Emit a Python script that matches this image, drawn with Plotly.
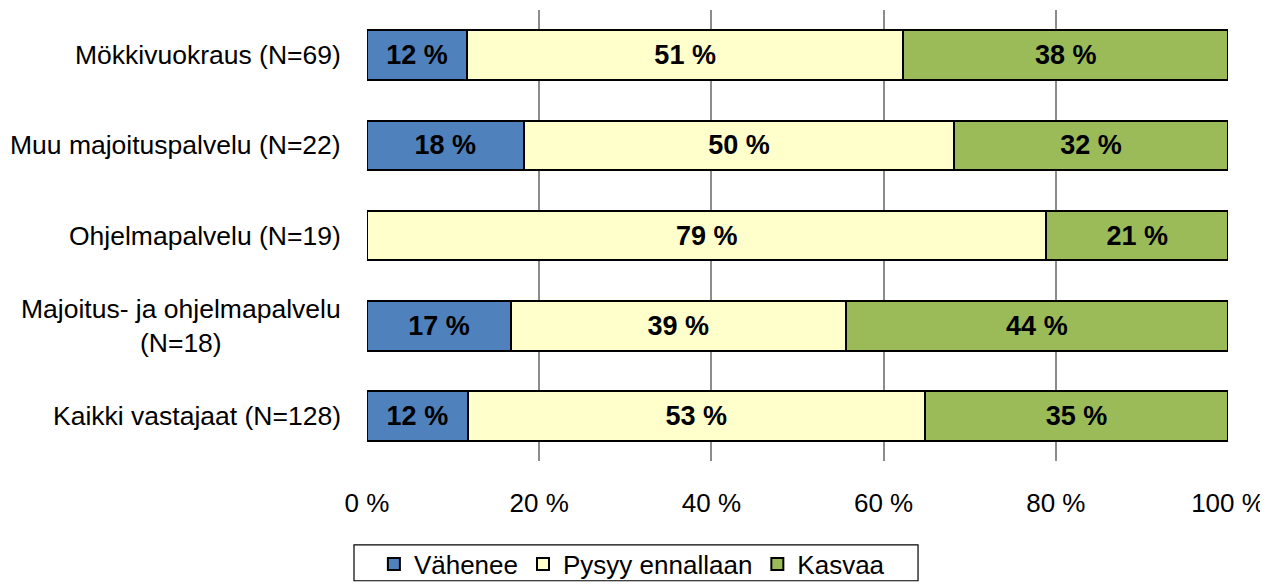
import plotly.graph_objects as go

categories = ["Mökkivuokraus (N=69)", "Muu majoituspalvelu (N=22)", "Ohjelmapalvelu (N=19)",
              "Majoitus- ja ohjelmapalvelu<br>(N=18)", "Kaikki vastajaat (N=128)"]
series_names = ["Vähenee", "Pysyy ennallaan", "Kasvaa"]
vahenee = [11.6, 18.2, 0.0, 16.7, 11.7]
pysyy = [50.7, 50.0, 78.9, 38.9, 53.1]
kasvaa = [37.7, 31.8, 21.1, 44.4, 35.2]
vahenee_lbl = ["12 %", "18 %", "", "17 %", "12 %"]
pysyy_lbl = ["51 %", "50 %", "79 %", "39 %", "53 %"]
kasvaa_lbl = ["38 %", "32 %", "21 %", "44 %", "35 %"]
tick_vals = [0, 20, 40, 60, 80, 100]
tick_text = ["0 %", "20 %", "40 %", "60 %", "80 %", "100 %"]
colors = ["#4F81BD", "#FFFFCC", "#9BBB59"]

FONT = "Liberation Sans, Arial, sans-serif"
FS = 26
fig = go.Figure()
for name, vals, lbl, col in zip(series_names, [vahenee, pysyy, kasvaa],
                                [vahenee_lbl, pysyy_lbl, kasvaa_lbl], colors):
    fig.add_trace(go.Bar(
        y=categories, x=vals, name=name, orientation="h",
        marker=dict(color=col, line=dict(color="#000000", width=2)),
        text=lbl, textposition="inside", insidetextanchor="middle", textangle=0,
        textfont=dict(family=FONT, size=27, color="#000000", weight="bold"),
        hoverinfo="skip",
    ))

for c in categories:
    fig.add_annotation(x=0, y=c, xref="paper", yref="y", text=c, showarrow=False,
                       xanchor="right", align="center", xshift=-24,
                       font=dict(family=FONT, size=26.5, color="#000000"))

# legend frame
fig.add_shape(type="rect", xref="paper", yref="paper",
              x0=-0.0151, x1=0.640, y0=-0.1858, y1=-0.2655,
              line=dict(color="#000000", width=1.2), fillcolor="rgba(0,0,0,0)")

fig.update_layout(
    barmode="stack", bargap=0.45,
    width=1260, height=580,
    margin=dict(l=359, r=40, t=2, b=126),
    plot_bgcolor="white", paper_bgcolor="white",
    font=dict(family=FONT, size=FS, color="#000000"),
    uniformtext=dict(minsize=10, mode="show"),
    xaxis=dict(range=[0, 100], tickvals=tick_vals, ticktext=tick_text,
               showgrid=True, gridcolor="#8C8C8C", gridwidth=1.5, zeroline=False,
               showline=False, ticks="", ticklabelstandoff=24,
               tickfont=dict(family=FONT, size=FS, color="#000000")),
    yaxis=dict(autorange="reversed", showticklabels=False, showgrid=False,
               zeroline=False, showline=False, ticks=""),
    legend=dict(orientation="h", x=0.008, xanchor="left", y=-0.2257, yanchor="middle",
                borderwidth=0, bgcolor="rgba(0,0,0,0)",
                font=dict(family=FONT, size=FS, color="#000000"),
                traceorder="normal", itemwidth=30),
    showlegend=True,
)
fig.write_html("out.html")
